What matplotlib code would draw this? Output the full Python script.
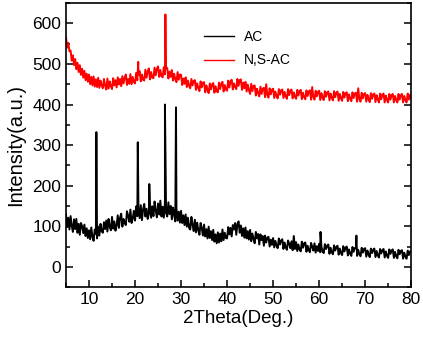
import numpy as np
import matplotlib
matplotlib.use("Agg")
import matplotlib.pyplot as plt
from matplotlib.ticker import MultipleLocator

plt.rcParams['font.family'] = ['Liberation Sans', 'DejaVu Sans']

# 2-theta grid: 5 to 80 deg, step 0.25
two_theta = np.arange(5.0, 80.0001, 0.25)

ac_base = [
    130, 98, 121, 92,
    125, 101, 86, 117,
    93, 118, 84, 106,
    79, 108, 100, 83,
    104, 76, 95, 71,
    90, 68, 97, 74,
    64, 92, 81, 70,
    99, 77, 106, 88,
    84, 110, 93, 114,
    87, 118, 99, 90,
    123, 94, 112, 89,
    102, 127, 96, 121,
    131, 99, 118, 108,
    103, 137, 126, 111,
    141, 108, 119, 138,
    114, 149, 125, 142,
    120, 152, 115, 141,
    155, 124, 143, 118,
    130, 157, 121, 149,
    125, 161, 138, 122,
    156, 129, 163, 124,
    148, 121, 158, 133,
    124, 159, 130, 150,
    117, 146, 128, 112,
    143, 114, 136, 109,
    138, 108, 127, 103,
    129, 99, 121, 96,
    92, 123, 104, 88,
    116, 85, 109, 90,
    79, 108, 96, 77,
    104, 75, 93, 70,
    99, 71, 88, 66,
    91, 62, 80, 58,
    85, 60, 82, 63,
    92, 66, 84, 71,
    70, 98, 80, 96,
    75, 103, 92, 108,
    79, 106, 112, 84,
    102, 76, 95, 72,
    97, 70, 88, 67,
    91, 63, 82, 69,
    58, 86, 70, 81,
    55, 80, 66, 76,
    52, 77, 60, 72,
    74, 50, 67, 54,
    71, 48, 64, 52,
    46, 70, 55, 65,
    68, 44, 60, 48,
    42, 65, 57, 46,
    63, 41, 76, 44,
    61, 39, 55, 43,
    38, 62, 47, 58,
    60, 37, 52, 41,
    36, 59, 50, 40,
    58, 35, 51, 39,
    57, 36, 50, 38,
    34, 56, 44, 52,
    55, 32, 47, 36,
    31, 53, 40, 49,
    52, 30, 45, 34,
    29, 51, 38, 47,
    50, 28, 43, 32,
    27, 49, 37, 46,
    48, 27, 42, 31,
    26, 47, 35, 44,
    46, 25, 40, 30,
    24, 45, 34, 42,
    45, 24, 39, 28,
    23, 44, 33, 41,
    44, 23, 38, 27,
    22, 43, 32, 40,
    43, 22, 37, 26,
    21, 42, 31, 39,
    41, 20, 35, 25,
    20, 40, 29, 38,
    36,
]

nsac_base = [
    566, 540, 552, 531,
    533, 508, 521, 497,
    512, 487, 503, 480,
    497, 473, 488, 466,
    483, 460, 476, 456,
    474, 450, 468, 447,
    469, 444, 462, 443,
    466, 441, 459, 447,
    440, 463, 446, 437,
    464, 439, 457, 445,
    438, 465, 447, 460,
    442, 467, 449, 463,
    445, 470, 452, 466,
    474, 448, 463, 451,
    475, 450, 468, 455,
    452, 478, 460, 473,
    482, 457, 474, 461,
    459, 486, 466, 481,
    489, 462, 480, 466,
    465, 491, 472, 488,
    494, 468, 485, 470,
    467, 492, 474, 489,
    490, 464, 481, 468,
    485, 459, 476, 462,
    455, 480, 461, 474,
    473, 448, 464, 451,
    467, 443, 459, 446,
    440, 463, 447, 458,
    460, 436, 452, 441,
    433, 457, 442, 454,
    455, 430, 447, 436,
    428, 452, 437, 449,
    453, 429, 445, 433,
    430, 454, 438, 451,
    456, 432, 448, 437,
    434, 459, 442, 457,
    461, 437, 452, 443,
    438, 463, 446, 460,
    462, 436, 454, 440,
    456, 432, 449, 435,
    426, 451, 433, 446,
    447, 422, 439, 428,
    420, 444, 426, 439,
    441, 418, 450, 423,
    417, 440, 425, 436,
    439, 416, 432, 421,
    415, 438, 424, 435,
    437, 416, 431, 420,
    414, 438, 423, 434,
    437, 415, 430, 419,
    414, 436, 422, 433,
    436, 413, 429, 418,
    413, 435, 421, 432,
    435, 412, 443, 418,
    412, 434, 420, 431,
    434, 411, 428, 417,
    411, 433, 419, 430,
    432, 410, 427, 416,
    410, 433, 418, 429,
    432, 409, 426, 415,
    409, 431, 417, 428,
    430, 408, 425, 414,
    408, 430, 416, 427,
    429, 407, 440, 413,
    407, 429, 415, 426,
    428, 407, 424, 413,
    406, 428, 414, 425,
    427, 406, 423, 412,
    405, 427, 413, 424,
    427, 405, 422, 411,
    405, 426, 412, 423,
    426, 405, 421, 411,
    405, 426, 412, 423,
    426, 405, 421, 411,
    405, 427, 412, 424,
    417,
]

# Sharp diffraction peaks
ac_peak_x = [11.6, 20.6, 23.1, 26.5, 28.9, 60.3, 68.1]
ac_peak_y = [332, 307, 204, 400, 393, 86, 77]
nsac_peak_x = [20.7, 26.6]
nsac_peak_y = [505, 622]

series_labels = ["AC", "N,S-AC"]
series_colors = ["black", "#ff0000"]


def merge(x, y, px, py):
    xx = np.concatenate([np.asarray(x, float), np.asarray(px, float)])
    yy = np.concatenate([np.asarray(y, float), np.asarray(py, float)])
    o = np.argsort(xx, kind="stable")
    return xx[o], yy[o]


fig = plt.figure(figsize=(4.23, 3.39), dpi=100)
ax = fig.add_axes([0.156, 0.153, 0.816, 0.838])

xa, ya = merge(two_theta, ac_base, ac_peak_x, ac_peak_y)
xb, yb = merge(two_theta, nsac_base, nsac_peak_x, nsac_peak_y)
ax.plot(xa, ya, color=series_colors[0], lw=1.4, label=series_labels[0])
ax.plot(xb, yb, color=series_colors[1], lw=1.4, label=series_labels[1])

ax.set_xlim(5, 80)
ax.set_ylim(-50, 650)
ax.xaxis.set_major_locator(MultipleLocator(10))
ax.xaxis.set_minor_locator(MultipleLocator(5))
ax.yaxis.set_major_locator(MultipleLocator(100))
ax.yaxis.set_minor_locator(MultipleLocator(50))
ax.tick_params(which='both', direction='in', top=False, right=True,
               labelsize=12.5, width=1.1)
ax.tick_params(which='major', length=5)
ax.tick_params(which='minor', length=3)
for s in ax.spines.values():
    s.set_linewidth(1.2)

ax.set_xlabel("2Theta(Deg.)", fontsize=13.5, labelpad=2)
ax.set_ylabel("Intensity(a.u.)", fontsize=14.5, labelpad=5)

leg = ax.legend(loc='upper left', bbox_to_anchor=(0.365, 0.95), frameon=False,
                fontsize=10, handlelength=2.1, handletextpad=0.75,
                labelspacing=0.7)
for h in leg.get_lines():
    h.set_linewidth(1.0)

fig.savefig("out.png", dpi=100)
